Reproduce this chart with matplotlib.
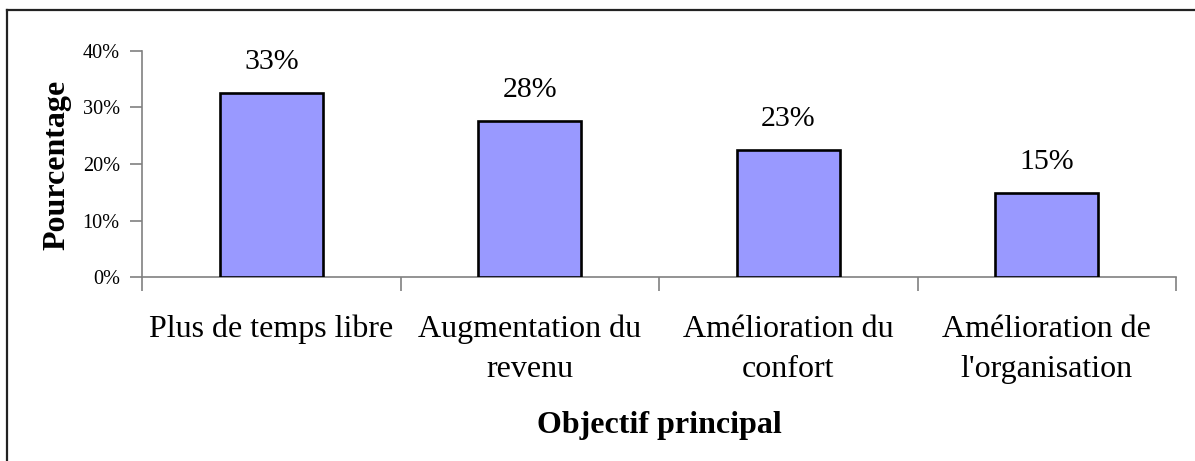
import matplotlib
matplotlib.use("Agg")
import matplotlib.pyplot as plt
from matplotlib.lines import Line2D

categories = ["Plus de temps libre", "Augmentation du\nrevenu",
              "Amélioration du\nconfort", "Amélioration de\nl'organisation"]
values = [0.326, 0.276, 0.225, 0.149]
value_labels = ["33%", "28%", "23%", "15%"]
yticks = [0.0, 0.1, 0.2, 0.3, 0.4]
ytick_labels = ["0%", "10%", "20%", "30%", "40%"]
xlabel = "Objectif principal"
ylabel = "Pourcentage"

plt.rcParams['font.family'] = ['Liberation Serif', 'DejaVu Serif']

W, H = 1195, 461
fig = plt.figure(figsize=(W / 100, H / 100), dpi=100)
fig.patch.set_facecolor('white')

ax = fig.add_axes([142 / W, 1 - 277.3 / H, (1176 - 142) / W, (277.3 - 50.7) / H])
x = list(range(len(categories)))
bars = ax.bar(x, values, width=0.40, color='#9999FF', edgecolor='black', linewidth=1.9, zorder=3)

ax.set_xlim(-0.5, len(categories) - 0.5)
ax.set_ylim(0, 0.40)
ax.set_yticks(yticks)
ax.set_yticklabels(ytick_labels, fontsize=14.6)
ax.set_xticks(x)
ax.set_xticklabels(categories, fontsize=23, linespacing=1.5)
ax.set_xticks([i - 0.5 for i in range(len(categories) + 1)], minor=True)

ax.tick_params(axis='x', which='major', length=0, pad=27)
ax.tick_params(axis='x', which='minor', length=10, width=1.2, color='#808080', direction='out')
ax.tick_params(axis='y', which='major', length=9, width=1.2, color='#808080', direction='out', pad=7)

for s in ['top', 'right']:
    ax.spines[s].set_visible(False)
for s in ['left', 'bottom']:
    ax.spines[s].set_color('#808080')
    ax.spines[s].set_linewidth(1.2)

for xi, v, lab in zip(x, values, value_labels):
    ax.annotate(lab, xy=(xi, v), xytext=(0, 13), textcoords='offset points',
                ha='center', va='bottom', fontsize=21.5)

fig.text(57 / W, 1 - 165 / H, ylabel, rotation=90, ha='center', va='center',
         fontsize=23, fontweight='bold')
fig.text(659 / W, 1 - 433 / H, xlabel, ha='center', va='baseline',
         fontsize=23, fontweight='bold')

fig.add_artist(Line2D([7 / W, 7 / W], [0, 1 - 10 / H], transform=fig.transFigure,
                      color='#222222', linewidth=1.6))
fig.add_artist(Line2D([7 / W, 1], [1 - 10 / H, 1 - 10 / H], transform=fig.transFigure,
                      color='#222222', linewidth=1.6))

fig.savefig("out.png", dpi=100, facecolor='white')
